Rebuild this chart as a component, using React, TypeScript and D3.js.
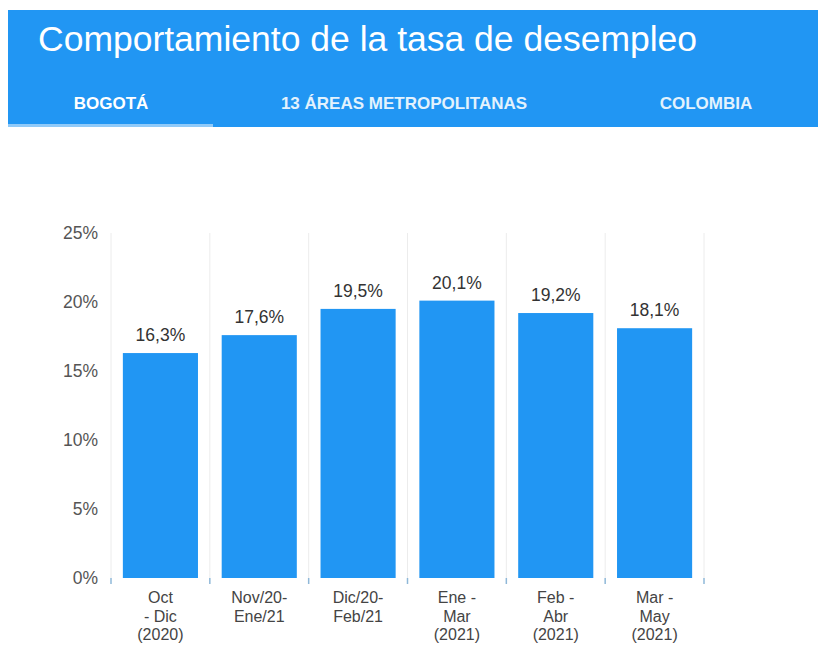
import React, { useRef, useEffect } from "react";
import * as d3 from "d3";

const categories = [
  ["Oct", "- Dic", "(2020)"],
  ["Nov/20-", "Ene/21"],
  ["Dic/20-", "Feb/21"],
  ["Ene -", "Mar", "(2021)"],
  ["Feb -", "Abr", "(2021)"],
  ["Mar -", "May", "(2021)"],
];
const values = [16.3, 17.6, 19.5, 20.1, 19.2, 18.1];
const valueLabels = ["16,3%", "17,6%", "19,5%", "20,1%", "19,2%", "18,1%"];
const yTicks = [0, 5, 10, 15, 20, 25];
const tabs = ["BOGOTÁ", "13 ÁREAS METROPOLITANAS", "COLOMBIA"];
const title = "Comportamiento de la tasa de desempleo";

const App = () => {
  const canvas = useRef<SVGSVGElement>(null);

  const width = 820;
  const height = 650;
  const blue = "#2196f3";
  const font = "'Liberation Sans', Arial, sans-serif";

  const drawChart = () => {
    const svg = d3.select(canvas.current);
    svg.selectAll("*").remove();

    // header
    svg.append("rect")
      .attr("x", 8).attr("y", 10)
      .attr("width", 810).attr("height", 117)
      .attr("fill", blue);
    svg.append("text")
      .attr("x", 38).attr("y", 51)
      .attr("fill", "#fff")
      .style("font-family", font)
      .style("font-size", "35.5px")
      .text(title);

    const tabX = [111, 404, 706];
    tabs.forEach((t, i) => {
      svg.append("text")
        .attr("x", tabX[i]).attr("y", 109)
        .attr("text-anchor", "middle")
        .attr("fill", i === 0 ? "#fff" : "#e3f2fd")
        .style("font-family", font)
        .style("font-size", "17px")
        .style("font-weight", "bold")
        .text(t);
    });
    svg.append("rect")
      .attr("x", 8).attr("y", 124)
      .attr("width", 205).attr("height", 3)
      .attr("fill", "#90caf9");

    // chart
    const left = 111, right = 704, top = 233, bottom = 578;

    const y = d3.scaleLinear().domain([0, 25]).range([bottom, top]);
    const bw = (right - left) / values.length;
    const barW = bw * 0.76;

    const g = svg.append("g");

    // vertical grid lines at band boundaries
    const bounds = d3.range(values.length + 1).map(i => left + i * bw);
    g.selectAll("line.grid")
      .data(bounds)
      .enter()
      .append("line")
      .attr("x1", d => d).attr("x2", d => d)
      .attr("y1", top).attr("y2", bottom)
      .attr("stroke", "#ececec")
      .attr("stroke-width", 1);

    g.selectAll("line.tick")
      .data(bounds)
      .enter()
      .append("line")
      .attr("x1", d => d).attr("x2", d => d)
      .attr("y1", bottom).attr("y2", bottom + 6)
      .attr("stroke", "#8fb8d8")
      .attr("stroke-width", 1.5);

    // bars
    g.selectAll("rect.bar")
      .data(values)
      .enter()
      .append("rect")
      .attr("x", (d, i) => left + i * bw + (bw - barW) / 2)
      .attr("y", d => y(d))
      .attr("width", barW)
      .attr("height", d => bottom - y(d))
      .attr("fill", blue);

    // value labels
    g.selectAll("text.val")
      .data(values)
      .enter()
      .append("text")
      .attr("x", (d, i) => left + i * bw + bw / 2)
      .attr("y", d => y(d) - 12)
      .attr("text-anchor", "middle")
      .attr("fill", "#333")
      .style("font-family", font)
      .style("font-size", "17.5px")
      .text((d, i) => valueLabels[i]);

    // y axis labels
    g.selectAll("text.ytick")
      .data(yTicks)
      .enter()
      .append("text")
      .attr("x", 98)
      .attr("y", d => y(d) + 6)
      .attr("text-anchor", "end")
      .attr("fill", "#555")
      .style("font-family", font)
      .style("font-size", "17.5px")
      .text(d => d + "%");

    // x labels
    categories.forEach((lines, i) => {
      const cx = left + i * bw + bw / 2;
      const t = g.append("text")
        .attr("x", cx)
        .attr("y", 603)
        .attr("text-anchor", "middle")
        .attr("fill", "#444")
        .style("font-family", font)
        .style("font-size", "16px");
      lines.forEach((l, j) => {
        t.append("tspan")
          .attr("x", cx)
          .attr("dy", j === 0 ? 0 : 18.5)
          .text(l);
      });
    });
  };

  useEffect(() => {
    drawChart();
  });

  return (
    <svg ref={canvas} width={width} height={height}
      style={{ position: "absolute", left: 0, top: 0, background: "#fff" }} />
  );
};

export default App;
